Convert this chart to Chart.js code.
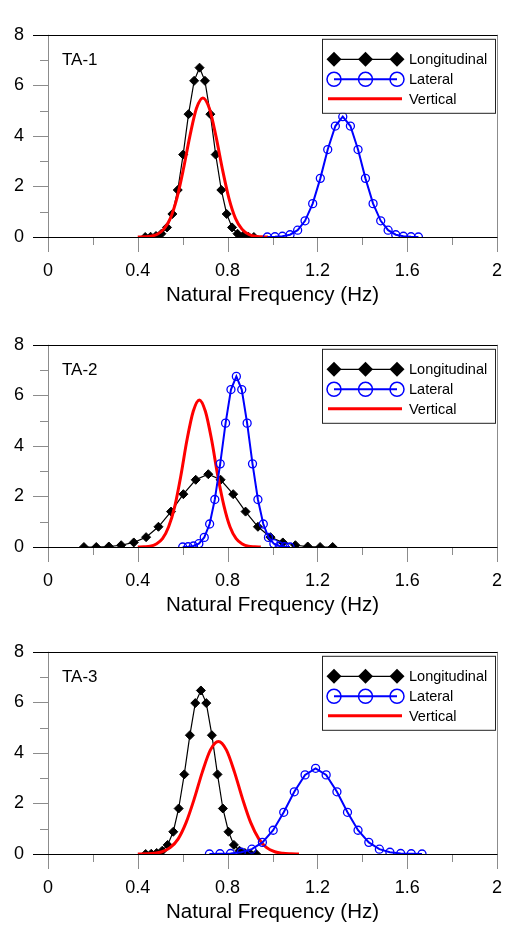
<!DOCTYPE html>
<html lang="en">
<head>
    <meta charset="UTF-8" />
    <title>Natural Frequency Distributions</title>
    <script src="https://cdn.jsdelivr.net/npm/chart.js"></script>
    <style>
        body { margin: 0; background: #fff; }
        .panel { position: absolute; left: 0; }
    </style>
</head>
<body>
    <div class="panel" style="top:0px"><canvas id="chart1" width="508" height="308"></canvas></div>
    <div class="panel" style="top:310px"><canvas id="chart2" width="508" height="308"></canvas></div>
    <div class="panel" style="top:617px"><canvas id="chart3" width="508" height="308"></canvas></div>

    <script>
        // names
        const panelNames = ['TA-1', 'TA-2', 'TA-3'];
        const seriesNames = ['Longitudinal', 'Lateral', 'Vertical'];
        const xTitle = 'Natural Frequency (Hz)';

        // ticks
        const xMajor = [0, 0.4, 0.8, 1.2, 1.6, 2];
        const xTickLabels = ['0', '0.4', '0.8', '1.2', '1.6', '2'];
        const xMinor = [0.2, 0.6, 1.0, 1.4, 1.8];
        const yMajor = [0, 2, 4, 6, 8];
        const yTickLabels = ['0', '2', '4', '6', '8'];
        const yMinor = [1, 3, 5, 7];

        // TA-1
        const lon1X = [0.433, 0.457, 0.481, 0.505, 0.530, 0.554, 0.578, 0.602, 0.626, 0.651, 0.675, 0.699, 0.723, 0.747, 0.772, 0.796, 0.820, 0.844, 0.868, 0.893, 0.917];
        const lon1Y = [0.00, 0.01, 0.04, 0.13, 0.38, 0.91, 1.86, 3.26, 4.86, 6.18, 6.70, 6.18, 4.86, 3.26, 1.86, 0.91, 0.38, 0.13, 0.04, 0.01, 0.00];
        const lat1X = [0.977, 1.011, 1.044, 1.078, 1.112, 1.145, 1.179, 1.213, 1.246, 1.280, 1.313, 1.347, 1.381, 1.414, 1.448, 1.482, 1.515, 1.549, 1.583, 1.617, 1.650];
        const lat1Y = [0.00, 0.01, 0.03, 0.09, 0.27, 0.64, 1.32, 2.32, 3.46, 4.39, 4.76, 4.39, 3.46, 2.32, 1.32, 0.64, 0.27, 0.09, 0.03, 0.01, 0.00];
        const ver1X = [0.400, 0.429, 0.458, 0.487, 0.516, 0.545, 0.574, 0.603, 0.632, 0.661, 0.690, 0.719, 0.748, 0.777, 0.806, 0.835, 0.864, 0.893, 0.922, 0.951, 0.980];
        const ver1Y = [0.00, 0.01, 0.03, 0.11, 0.31, 0.74, 1.53, 2.68, 3.99, 5.08, 5.50, 5.08, 3.99, 2.68, 1.53, 0.74, 0.31, 0.11, 0.03, 0.01, 0.00];

        // TA-2
        const lon2X = [0.160, 0.215, 0.271, 0.326, 0.382, 0.437, 0.492, 0.548, 0.603, 0.658, 0.714, 0.769, 0.825, 0.880, 0.935, 0.991, 1.046, 1.102, 1.157, 1.212, 1.268];
        const lon2Y = [0.00, 0.00, 0.02, 0.07, 0.18, 0.39, 0.80, 1.40, 2.09, 2.66, 2.88, 2.66, 2.09, 1.40, 0.80, 0.39, 0.18, 0.07, 0.02, 0.00, 0.00];
        const lat2X = [0.600, 0.624, 0.648, 0.672, 0.696, 0.720, 0.743, 0.767, 0.791, 0.815, 0.839, 0.863, 0.887, 0.911, 0.935, 0.959, 0.982, 1.006, 1.030, 1.054, 1.078];
        const lat2Y = [0.00, 0.01, 0.04, 0.13, 0.38, 0.91, 1.88, 3.29, 4.90, 6.23, 6.75, 6.23, 4.90, 3.29, 1.88, 0.91, 0.38, 0.13, 0.04, 0.01, 0.00];
        const ver2X = [0.400, 0.427, 0.455, 0.482, 0.510, 0.537, 0.565, 0.592, 0.619, 0.647, 0.674, 0.701, 0.729, 0.756, 0.784, 0.811, 0.838, 0.866, 0.893, 0.921, 0.948];
        const ver2Y = [0.00, 0.01, 0.03, 0.12, 0.33, 0.79, 1.62, 2.83, 4.23, 5.37, 5.82, 5.37, 4.23, 2.83, 1.62, 0.79, 0.33, 0.12, 0.03, 0.01, 0.00];

        // TA-3
        const lon3X = [0.435, 0.460, 0.484, 0.509, 0.533, 0.558, 0.582, 0.607, 0.632, 0.656, 0.681, 0.705, 0.730, 0.755, 0.779, 0.804, 0.828, 0.853, 0.877, 0.902, 0.927];
        const lon3Y = [0.00, 0.01, 0.04, 0.13, 0.36, 0.88, 1.80, 3.15, 4.70, 5.97, 6.47, 5.97, 4.70, 3.15, 1.80, 0.88, 0.36, 0.13, 0.04, 0.01, 0.00];
        const lat3X = [0.719, 0.766, 0.813, 0.861, 0.908, 0.955, 1.003, 1.050, 1.097, 1.145, 1.192, 1.239, 1.287, 1.334, 1.381, 1.429, 1.476, 1.523, 1.571, 1.618, 1.666];
        const lat3Y = [0.00, 0.01, 0.02, 0.07, 0.19, 0.46, 0.94, 1.65, 2.46, 3.13, 3.39, 3.13, 2.46, 1.65, 0.94, 0.46, 0.19, 0.07, 0.02, 0.01, 0.00];
        const ver3X = [0.400, 0.436, 0.472, 0.508, 0.544, 0.580, 0.615, 0.651, 0.687, 0.723, 0.759, 0.795, 0.831, 0.867, 0.903, 0.939, 0.974, 1.010, 1.046, 1.082, 1.118];
        const ver3Y = [0.00, 0.01, 0.03, 0.09, 0.25, 0.60, 1.24, 2.17, 3.23, 4.11, 4.45, 4.11, 3.23, 2.17, 1.24, 0.60, 0.25, 0.09, 0.03, 0.01, 0.00];

        const FONT = "'Liberation Sans', Arial, sans-serif";

        function pts(xs, ys) {
            return xs.map((x, i) => ({ x: x, y: ys[i] }));
        }

        // axis lines, tick marks, panel label and legend box
        const framePlugin = {
            id: 'frame',
            beforeDatasetsDraw(chart) {
                const { ctx, chartArea: a, scales: { x, y } } = chart;
                ctx.save();
                ctx.lineWidth = 1;
                ctx.strokeStyle = '#8c8c8c';
                ctx.beginPath();
                xMajor.forEach(v => {
                    const px = Math.round(x.getPixelForValue(v)) + 0.5;
                    const y0 = (v === 0 || v === 2) ? a.top : a.bottom;
                    ctx.moveTo(px, y0);
                    ctx.lineTo(px, a.bottom + 15);
                });
                xMinor.forEach(v => {
                    const px = Math.round(x.getPixelForValue(v)) + 0.5;
                    ctx.moveTo(px, a.bottom);
                    ctx.lineTo(px, a.bottom + 8);
                });
                yMajor.forEach(v => {
                    const py = Math.round(y.getPixelForValue(v)) + 0.5;
                    ctx.moveTo(a.left - 15, py);
                    ctx.lineTo(a.left, py);
                });
                yMinor.forEach(v => {
                    const py = Math.round(y.getPixelForValue(v)) + 0.5;
                    ctx.moveTo(a.left - 8, py);
                    ctx.lineTo(a.left, py);
                });
                ctx.stroke();

                ctx.strokeStyle = '#000';
                ctx.beginPath();
                [8, 0].forEach(v => {
                    const py = Math.round(y.getPixelForValue(v)) + 0.5;
                    ctx.moveTo(a.left - 15, py);
                    ctx.lineTo(a.right + 0.5, py);
                });
                ctx.stroke();
                ctx.restore();
            },
            afterDraw(chart, args, opts) {
                const { ctx, chartArea: a } = chart;
                ctx.save();
                ctx.fillStyle = '#000';
                ctx.font = '17px ' + FONT;
                ctx.textBaseline = 'alphabetic';
                ctx.fillText(opts.label, a.left + 14, a.top + 30);

                // legend
                const bx = a.right - 175, by = a.top + 4, bw = 173, bh = 74;
                ctx.fillStyle = '#fff';
                ctx.fillRect(bx, by, bw, bh);
                ctx.strokeStyle = '#222';
                ctx.lineWidth = 1;
                ctx.strokeRect(bx + 0.5, by + 0.5, bw, bh);

                const rows = [a.top + 24.5, a.top + 44.5, a.top + 64];
                const xs = [bx + 12, bx + 43.5, bx + 75];
                // Longitudinal
                ctx.strokeStyle = '#000';
                ctx.lineWidth = 1.2;
                ctx.beginPath();
                ctx.moveTo(xs[0], rows[0]);
                ctx.lineTo(xs[2], rows[0]);
                ctx.stroke();
                ctx.fillStyle = '#000';
                xs.forEach(px => {
                    ctx.beginPath();
                    ctx.moveTo(px, rows[0] - 7.5);
                    ctx.lineTo(px + 7.5, rows[0]);
                    ctx.lineTo(px, rows[0] + 7.5);
                    ctx.lineTo(px - 7.5, rows[0]);
                    ctx.closePath();
                    ctx.fill();
                });
                // Lateral
                ctx.strokeStyle = '#0000ff';
                ctx.lineWidth = 2;
                ctx.beginPath();
                ctx.moveTo(xs[0], rows[1]);
                ctx.lineTo(xs[2], rows[1]);
                ctx.stroke();
                ctx.lineWidth = 1.5;
                xs.forEach(px => {
                    ctx.beginPath();
                    ctx.arc(px, rows[1], 7, 0, Math.PI * 2);
                    ctx.stroke();
                });
                // Vertical
                ctx.strokeStyle = '#ff0000';
                ctx.lineWidth = 3;
                ctx.beginPath();
                ctx.moveTo(bx + 6, rows[2]);
                ctx.lineTo(bx + 80, rows[2]);
                ctx.stroke();

                ctx.fillStyle = '#000';
                ctx.font = '14.5px ' + FONT;
                ctx.textBaseline = 'middle';
                seriesNames.forEach((n, i) => ctx.fillText(n, bx + 87, rows[i] + 1));
                ctx.restore();
            }
        };

        function makeChart(id, name, lonX, lonY, latX, latY, verX, verY) {
            const ctx = document.getElementById(id).getContext('2d');
            return new Chart(ctx, {
                type: 'line',
                data: {
                    datasets: [{
                        label: seriesNames[0],
                        data: pts(lonX, lonY),
                        borderColor: '#000',
                        borderWidth: 1.2,
                        pointStyle: 'rectRot',
                        pointRadius: 4.5,
                        pointBackgroundColor: '#000',
                        pointBorderColor: '#000',
                        pointBorderWidth: 1,
                        tension: 0,
                        order: 2
                    }, {
                        label: seriesNames[1],
                        data: pts(latX, latY),
                        borderColor: '#0000ff',
                        borderWidth: 2,
                        pointStyle: 'circle',
                        pointRadius: 4,
                        pointBackgroundColor: 'rgba(0,0,0,0)',
                        pointBorderColor: '#0000ff',
                        pointBorderWidth: 1.3,
                        tension: 0,
                        order: 0
                    }, {
                        label: seriesNames[2],
                        data: pts(verX, verY),
                        borderColor: '#ff0000',
                        borderWidth: 3,
                        pointRadius: 0,
                        cubicInterpolationMode: 'monotone',
                        order: 1
                    }]
                },
                options: {
                    responsive: false,
                    animation: false,
                    devicePixelRatio: 1,
                    layout: { padding: { top: 12, right: 11, left: 0, bottom: 0 } },
                    plugins: {
                        legend: { display: false },
                        tooltip: { enabled: false },
                        frame: { label: name }
                    },
                    scales: {
                        x: {
                            type: 'linear',
                            min: 0,
                            max: 2,
                            afterFit: s => { s.height = 71; },
                            afterBuildTicks: s => { s.ticks = xMajor.map(v => ({ value: v })); },
                            grid: {
                                display: true,
                                drawOnChartArea: false,
                                drawTicks: true,
                                tickLength: 20,
                                color: 'rgba(0,0,0,0)',
                                tickColor: 'rgba(0,0,0,0)'
                            },
                            border: { display: false },
                            ticks: {
                                autoSkip: false,
                                maxRotation: 0,
                                padding: 3,
                                color: '#000',
                                font: { family: FONT, size: 18 },
                                callback: (v, i) => xTickLabels[i]
                            },
                            title: {
                                display: true,
                                text: xTitle,
                                color: '#000',
                                font: { family: FONT, size: 20.5 },
                                padding: { top: 0, bottom: 0 }
                            }
                        },
                        y: {
                            min: 0,
                            max: 8,
                            afterFit: s => { s.width = 48; },
                            afterBuildTicks: s => { s.ticks = yMajor.map(v => ({ value: v })); },
                            grid: { display: false, drawTicks: false },
                            border: { display: false },
                            ticks: {
                                padding: 24,
                                color: '#000',
                                font: { family: FONT, size: 18 },
                                callback: (v, i) => yTickLabels[i]
                            }
                        }
                    }
                },
                plugins: [framePlugin]
            });
        }

        makeChart('chart1', panelNames[0], lon1X, lon1Y, lat1X, lat1Y, ver1X, ver1Y);
        makeChart('chart2', panelNames[1], lon2X, lon2Y, lat2X, lat2Y, ver2X, ver2Y);
        makeChart('chart3', panelNames[2], lon3X, lon3Y, lat3X, lat3Y, ver3X, ver3Y);
    </script>
</body>
</html>
